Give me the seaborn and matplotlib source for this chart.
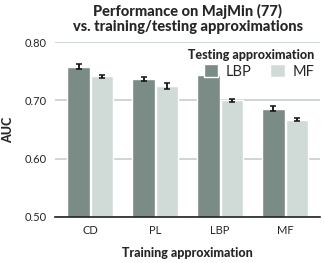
import numpy as np
import pandas as pd
import matplotlib
matplotlib.use("Agg")
import matplotlib.pyplot as plt
import seaborn as sns

training = ["CD", "PL", "LBP", "MF"]
auc_lbp = [0.758, 0.737, 0.744, 0.686]
auc_mf = [0.741, 0.725, 0.700, 0.667]
err_lbp = [0.004, 0.003, 0.003, 0.005]
err_mf = [0.003, 0.005, 0.002, 0.003]

df = pd.DataFrame({
    "train": training * 2,
    "test": ["LBP"] * 4 + ["MF"] * 4,
    "auc": auc_lbp + auc_mf,
    "err": err_lbp + err_mf,
})

sns.set_theme(style="white")
plt.rcParams["font.family"] = ["Lato", "DejaVu Sans"]

fig = plt.figure(figsize=(3.25, 2.63), dpi=100)
ax = fig.add_axes([0.17, 0.175, 0.815, 0.665])

palette = {"LBP": "#7b8b86", "MF": "#d0dbd7"}
sns.barplot(data=df, x="train", y="auc", hue="test", palette=palette,
            errorbar=None, width=0.72, gap=0.04, saturation=1, ax=ax, zorder=2)

# error bars on each bar
for cont, sub in zip(ax.containers, [err_lbp, err_mf]):
    for bar, e in zip(cont, sub):
        x = bar.get_x() + bar.get_width() / 2
        ax.errorbar(x, bar.get_height(), yerr=e, color="#111111",
                    capsize=2.2, elinewidth=1.3, capthick=1.1, zorder=3)

ax.set_ylim(0.5, 0.8)
ax.set_yticks([0.5, 0.6, 0.7, 0.8])
ax.set_yticklabels(["0.50", "0.60", "0.70", "0.80"])
ax.yaxis.grid(True, color="#c5cfcb", linewidth=1.2, zorder=0)
ax.set_axisbelow(True)
for s in ["left", "right", "top"]:
    ax.spines[s].set_visible(False)
ax.spines["bottom"].set_color("#222222")
ax.spines["bottom"].set_linewidth(1.2)
ax.tick_params(axis="both", length=0, labelsize=8, pad=6)

ax.set_xlabel("Training approximation", fontsize=9, fontweight="black", labelpad=8)
ax.set_ylabel("AUC", fontsize=9, fontweight="black", labelpad=8)
ax.set_title("Performance on MajMin (77)\nvs. training/testing approximations",
             fontsize=10.5, fontweight="black", pad=8, linespacing=1.05)

leg = ax.legend(title="Testing approximation", ncol=2, frameon=False,
                loc="upper right", bbox_to_anchor=(1.01, 1.01),
                fontsize=10.5, title_fontsize=9, handlelength=1.0,
                handleheight=1.0, columnspacing=1.3, handletextpad=0.5,
                borderaxespad=0.2, labelspacing=0.2)
leg.get_title().set_fontweight("black")
leg._legend_box.align = "right"

fig.savefig("out.png", dpi=100)
